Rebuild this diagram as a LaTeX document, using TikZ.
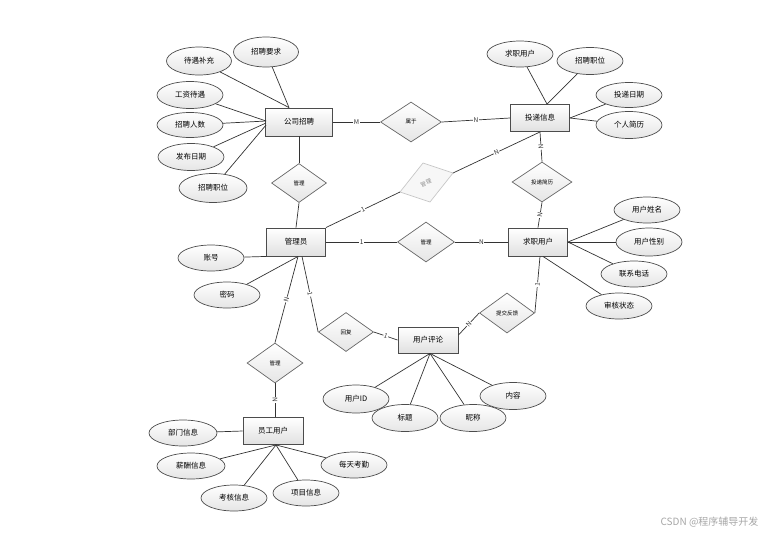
\documentclass[tikz,border=0pt]{standalone}
\usepackage{fontspec}
\setmainfont{Noto Sans CJK SC}
\usetikzlibrary{shapes.geometric,calc}
\tikzset{
 ent/.style={draw=black!70, line width=0.9pt, top color=white, bottom color=black!12, minimum width=60pt, minimum height=27pt, inner sep=0pt, font=\fontsize{7.5}{9}\selectfont},
 attr/.style={ellipse, draw=black!70, line width=0.7pt, top color=white, bottom color=black!10, minimum width=66pt, minimum height=27pt, inner sep=0pt, font=\fontsize{7.5}{9}\selectfont},
 rel/.style={diamond, draw=black!60, line width=0.7pt, top color=white, bottom color=black!10, minimum width=56pt, minimum height=40pt, inner sep=0pt, font=\fontsize{5.5}{7}\selectfont},
 conn/.style={draw=black!80, line width=0.7pt},
 card/.style={fill=white, inner sep=0.6pt, font=\fontsize{6.5}{7}\selectfont, text=black!80},
}
\begin{document}
\begin{tikzpicture}[x=1pt,y=-1pt]
\useasboundingbox (0,0) rectangle (768,536);
% entities
\node[ent, minimum width=67pt, minimum height=28pt] (gszp) at (299,122) {公司招聘};
\node[ent, minimum width=59pt] (tdxx) at (540,118) {投递信息};
\node[ent, minimum width=59pt, minimum height=28pt] (gly) at (296,242) {管理员};
\node[ent, minimum width=59pt, minimum height=28pt] (qzyh) at (538,242) {求职用户};
\node[ent, minimum width=60pt, minimum height=26pt] (yhpl) at (428,340) {用户评论};
\node[ent, minimum width=60pt] (ygyh) at (273,431) {员工用户};
% relations
\node[rel, minimum width=61pt] (shuyu) at (411,122) {属于};
\node[rel, minimum width=55pt, minimum height=39pt] (gl1) at (299,183) {管理};
\node[rel, minimum width=60pt] (tdjl) at (542,182) {投递简历};
\node[rel, minimum width=57pt] (gl2) at (426,242) {管理};
\node[rel, minimum width=55pt, minimum height=39pt] (hf) at (346,332) {回复};
\node[rel, minimum width=55pt] (tjfk) at (507,313) {提交反馈};
\node[rel, minimum width=56pt] (gl3) at (275,363) {管理};
% gray skewed diamond
\coordinate (gt) at (423,163);
\coordinate (gr) at (453,173);
\coordinate (gb) at (430,202);
\coordinate (gl) at (400,192);
\filldraw[draw=black!22, fill=black!3, line width=0.7pt] (gt)--(gr)--(gb)--(gl)--cycle;
\node[rotate=22, text=black!45, font=\fontsize{5.5}{7}\selectfont] (glg) at (426,183) {管理};
% attributes of 公司招聘
\node[attr, minimum width=65pt, minimum height=30pt] (zpyq) at (266,52) {招聘要求};
\node[attr, minimum width=65pt, minimum height=28pt] (dybc) at (199,61) {待遇补充};
\node[attr] (gzdy) at (190,95) {工资待遇};
\node[attr, minimum height=25pt] (zprs) at (190,125) {招聘人数};
\node[attr] (fbrq) at (191,157) {发布日期};
\node[attr, minimum width=68pt, minimum height=29pt] (zpzw1) at (213,188) {招聘职位};
% attributes of 投递信息
\node[attr, minimum height=26pt] (qzyha) at (520,54) {求职用户};
\node[attr] (zpzw2) at (590,61) {招聘职位};
\node[attr, minimum height=25pt] (tdrq) at (629,95) {投递日期};
\node[attr] (grjl) at (629,125) {个人简历};
% attributes of 求职用户
\node[attr, minimum height=26pt] (yhxm) at (647,210) {用户姓名};
\node[attr, minimum height=28pt] (yhxb) at (649,242) {用户性别};
\node[attr, minimum height=26pt] (lxdh) at (634,274) {联系电话};
\node[attr, minimum height=26pt] (shzt) at (619,306) {审核状态};
% attributes of 管理员
\node[attr, minimum height=26pt] (zh) at (211,258) {账号};
\node[attr, minimum height=26pt] (mm) at (227,295) {密码};
% attributes of 用户评论
\node[attr, minimum height=28pt] (yhid) at (356,399) {用户ID};
\node[attr] (bt) at (405,418) {标题};
\node[attr] (nc) at (473,418) {昵称};
\node[attr] (nr) at (513,396) {内容};
% attributes of 员工用户
\node[attr, minimum width=68pt, minimum height=26pt] (bmxx) at (183,433) {部门信息};
\node[attr, minimum width=68pt, minimum height=26pt] (xcxx) at (191,466) {薪酬信息};
\node[attr, minimum height=26pt] (khxx) at (234,498) {考核信息};
\node[attr, minimum height=26pt] (xmxx) at (306,493) {项目信息};
\node[attr, minimum height=26pt] (mtkq) at (354,465) {每天考勤};
% attribute connectors
\coordinate (gtop) at ($(gszp.north)+(-10,0)$);
\coordinate (gleft) at ($(gszp.west)+(1,-1)$);
\draw[conn] (zpyq) -- (gtop);
\draw[conn] (dybc) -- (gtop);
\draw[conn] (gzdy) -- (gleft);
\draw[conn] (zprs) -- (gleft);
\draw[conn] (fbrq) -- ($(gszp.west)+(1,1)$);
\draw[conn] (zpzw1) -- ($(gszp.west)+(1,3)$);
\coordinate (ttop) at ($(tdxx.north)+(7,0)$);
\draw[conn] (qzyha) -- (ttop);
\draw[conn] (zpzw2) -- (ttop);
\draw[conn] (tdrq) -- (tdxx.east);
\draw[conn] (grjl) -- (tdxx.east);
\draw[conn] (yhxm) -- (qzyh.east);
\draw[conn] (yhxb) -- (qzyh.east);
\draw[conn] (lxdh) -- (qzyh.east);
\draw[conn] (shzt) -- ($(qzyh.south)+(5,0)$);
\draw[conn] (zh) -- (gly.south west);
\draw[conn] (mm) -- ($(gly.south)+(2,0)$);
\coordinate (ybot) at ($(yhpl.south)+(2,0)$);
\draw[conn] (yhid) -- (ybot);
\draw[conn] (bt) -- (ybot);
\draw[conn] (nc) -- (ybot);
\draw[conn] (nr) -- (ybot);
\coordinate (ebot) at ($(ygyh.south)+(3,0)$);
\draw[conn] (bmxx) -- (ygyh.west);
\draw[conn] (xcxx) -- (ebot);
\draw[conn] (khxx) -- (ebot);
\draw[conn] (xmxx) -- (ebot);
\draw[conn] (mtkq) -- (ebot);
% relationship connectors
\draw[conn] (gszp.east) -- node[card]{M} (shuyu.west);
\draw[conn] (shuyu.east) -- node[card]{N} (tdxx.west);
\draw[conn] (gszp.south) -- (gl1.north);
\draw[conn] (gl1.south) -- (gly.north);
\draw[conn] (tdxx.south) -- node[card, sloped]{N} (tdjl.north);
\draw[conn] (tdjl.south) -- node[card, sloped]{N} (qzyh.north);
\draw[conn] (gly.east) -- node[card]{1} (gl2.west);
\draw[conn] (gl2.east) -- node[card]{N} (qzyh.west);
\draw[conn] (gly.north east) -- node[card, sloped]{1} (gl);
\draw[conn] (gr) -- node[card, sloped]{N} (tdxx.south);
\draw[conn] ($(gly.south)+(2,0)$) -- node[card, sloped]{N} (gl3.north);
\draw[conn] (gl3.south) -- node[card, sloped]{N} (gl3.south |- ygyh.north);
\draw[conn] ($(gly.south)+(6,0)$) -- node[card, sloped]{1} (hf.west);
\draw[conn] (hf.east) -- node[card, sloped]{1} (yhpl.west);
\draw[conn] ($(yhpl.east)+(0,-5)$) -- node[card, sloped]{N} (tjfk.west);
\draw[conn] (tjfk.east) -- node[card, sloped]{1} ($(qzyh.south)+(2,0)$);
% watermark
\node[text=black!35, font=\fontsize{10}{12}\selectfont, anchor=east] (wm) at (762,522) {CSDN @程序辅导开发};
\end{tikzpicture}
\end{document}
